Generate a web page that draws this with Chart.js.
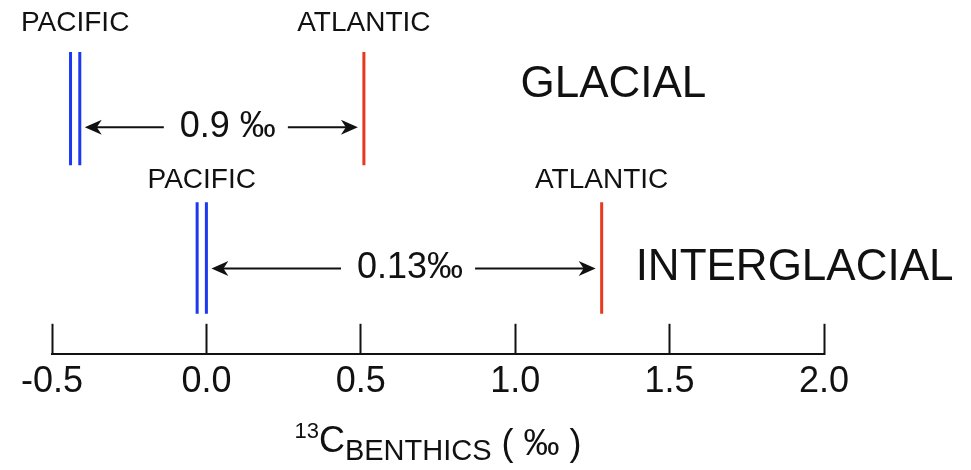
<!DOCTYPE html>
<html lang="en">
<head>
<meta charset="UTF-8">
<title>Benthic δ13C, Pacific vs Atlantic</title>
<script src="https://cdn.jsdelivr.net/npm/chart.js"></script>
<style>
    body { margin: 0; background: #fff; }
    #wrap { width: 971px; height: 470px; }
</style>
</head>
<body>
<div id="wrap"><canvas id="carbonChart" width="971" height="470"></canvas></div>

<script>
    // benthic d13C (per mil) for each basin, glacial then interglacial
    const periods = ['GLACIAL', 'INTERGLACIAL'];
    const pacificWest = [-0.44, -0.03];
    const pacificEast = [-0.41, 0.00];
    const atlantic = [0.51, 1.28];
    const gradientLabels = ['0.9 ‰', '0.13‰'];
    const xTicks = [-0.5, 0.0, 0.5, 1.0, 1.5, 2.0];

    const FONT = '"Liberation Sans", Arial, Helvetica, sans-serif';
    const BLUE = '#1c38f0';
    const RED = '#e8381e';
    const INK = '#111';

    // where each period sits on the hidden 0-10 y axis
    const rows = [
        { lo: 5.33, hi: 8.53, arrow: 6.40, basin: 9.35, name: 7.61, nameX: 1.017 },
        { lo: 1.13, hi: 4.28, arrow: 2.41, basin: 4.90, name: 2.42, nameX: 1.39 }
    ];

    function marker(value, row, color, label) {
        return {
            label: label,
            data: [{ x: value, y: row.lo }, { x: value, y: row.hi }],
            showLine: true,
            borderColor: color,
            borderWidth: 3,
            pointRadius: 0
        };
    }

    var datasets = [];
    periods.forEach(function(p, i) {
        datasets.push(marker(pacificWest[i], rows[i], BLUE, 'Pacific ' + p));
        datasets.push(marker(pacificEast[i], rows[i], BLUE, 'Pacific ' + p));
        datasets.push(marker(atlantic[i], rows[i], RED, 'Atlantic ' + p));
    });

    function drawArrow(ctx, fromX, toX, y) {
        var dir = Math.sign(toX - fromX);
        ctx.beginPath();
        ctx.moveTo(fromX, y);
        ctx.lineTo(toX - dir * 10, y);
        ctx.lineWidth = 2;
        ctx.strokeStyle = INK;
        ctx.stroke();
        ctx.beginPath();
        ctx.moveTo(toX, y);
        ctx.lineTo(toX - dir * 17, y - 7.5);
        ctx.lineTo(toX - dir * 12, y);
        ctx.lineTo(toX - dir * 17, y + 7.5);
        ctx.closePath();
        ctx.fillStyle = INK;
        ctx.fill();
    }

    // basin names, period names, gradient arrows and the axis title
    const annotations = {
        id: 'annotations',
        afterDatasetsDraw(chart) {
            const ctx = chart.ctx;
            const x = chart.scales.x, y = chart.scales.y;
            ctx.save();
            ctx.fillStyle = INK;
            ctx.textBaseline = 'middle';
            periods.forEach(function(p, i) {
                var r = rows[i];
                var pacX = x.getPixelForValue((pacificWest[i] + pacificEast[i]) / 2);
                var innerX = x.getPixelForValue(pacificEast[i]);
                var atlX = x.getPixelForValue(atlantic[i]);

                ctx.font = '28px ' + FONT;
                ctx.textAlign = 'center';
                ctx.fillText('PACIFIC', pacX, y.getPixelForValue(r.basin));
                ctx.fillText('ATLANTIC', atlX, y.getPixelForValue(r.basin));

                ctx.font = '44px ' + FONT;
                ctx.textAlign = 'left';
                ctx.fillText(p, x.getPixelForValue(r.nameX), y.getPixelForValue(r.name));

                var ay = y.getPixelForValue(r.arrow);
                var mid = (innerX + atlX) / 2 + 6;
                ctx.font = '36px ' + FONT;
                ctx.textAlign = 'center';
                var w = ctx.measureText(gradientLabels[i]).width;
                ctx.fillText(gradientLabels[i], mid, ay);
                drawArrow(ctx, mid - w / 2 - 16, innerX + 5, ay);
                drawArrow(ctx, mid + w / 2 + 12, atlX - 6, ay);
            });
            ctx.restore();
        },
        afterDraw(chart) {
            const ctx = chart.ctx;
            const x = chart.scales.x;
            const base = 452;
            const parts = [
                { t: '13', size: 22, dy: -14 },
                { t: 'C', size: 36, dy: 0 },
                { t: 'BENTHICS', size: 29, dy: 8 },
                { t: ' ( ‰ )', size: 36, dy: 3 }
            ];
            ctx.save();
            ctx.fillStyle = INK;
            ctx.textBaseline = 'alphabetic';
            ctx.textAlign = 'left';
            var total = 0;
            parts.forEach(function(s) {
                ctx.font = s.size + 'px ' + FONT;
                s.w = ctx.measureText(s.t).width;
                total += s.w;
            });
            var cx = (x.left + x.right) / 2 - total / 2;
            parts.forEach(function(s) {
                ctx.font = s.size + 'px ' + FONT;
                ctx.fillText(s.t, cx, base + s.dy);
                cx += s.w;
            });
            ctx.restore();
        }
    };

    new Chart(document.getElementById('carbonChart'), {
        type: 'scatter',
        data: { datasets: datasets },
        options: {
            responsive: false,
            animation: false,
            layout: { padding: { left: 52, right: 147, top: 0, bottom: 29 } },
            plugins: {
                legend: { display: false },
                tooltip: { enabled: false }
            },
            scales: {
                x: {
                    type: 'linear',
                    min: xTicks[0],
                    max: xTicks[xTicks.length - 1],
                    afterBuildTicks: function(scale) {
                        scale.ticks = xTicks.map(function(v) { return { value: v }; });
                    },
                    afterFit: function(scale) {
                        // end labels fit inside the layout padding
                        scale.paddingLeft = 0;
                        scale.paddingRight = 0;
                    },
                    ticks: {
                        color: INK,
                        padding: 37,
                        font: { family: FONT, size: 36 },
                        callback: function(v) { return Number(v).toFixed(1); }
                    },
                    grid: {
                        drawOnChartArea: false,
                        tickLength: -30,
                        tickWidth: 2,
                        tickColor: INK
                    },
                    border: { color: INK, width: 2 }
                },
                y: {
                    display: false,
                    min: 0,
                    max: 10
                }
            }
        },
        plugins: [annotations]
    });
</script>
</body>
</html>
